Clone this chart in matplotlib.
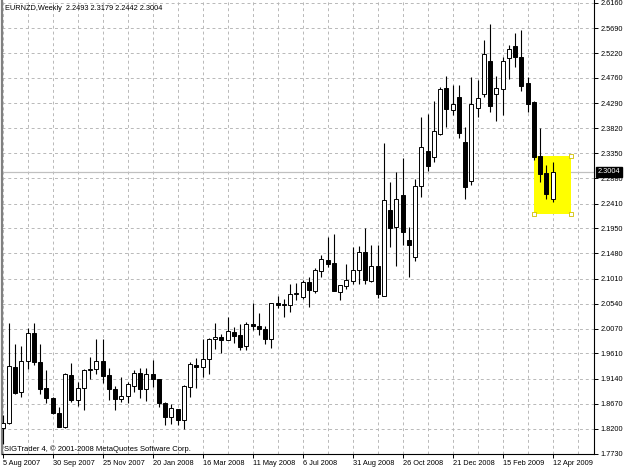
import matplotlib
matplotlib.use('Agg')
import matplotlib.pyplot as plt
import numpy as np
from matplotlib.patches import Rectangle

# EURNZD weekly candles, 5 Aug 2007 .. 12 Apr 2009
opens = [1.8211, 1.8305, 1.9362, 1.8884, 1.9474, 1.9998, 1.9456, 1.8969, 1.8783, 1.8503,
         1.8241, 1.9207, 1.8740, 1.8958, 1.9295, 1.9314, 1.9469, 1.9201, 1.8939, 1.8759,
         1.8821, 1.9002, 1.9245, 1.8945, 1.9226, 1.9133, 1.8690, 1.8428, 1.8572, 1.8366,
         1.8988, 1.9394, 1.9362, 1.9500, 1.9874, 1.9912, 1.9861, 2.0017, 1.9955, 1.9749,
         2.0160, 2.0123, 2.0061, 1.9874, 2.0547, 2.0516, 2.0516, 2.0716, 2.0659, 2.0951,
         2.0783, 2.1157, 2.1357, 2.1295, 2.0764, 2.0876, 2.0970, 2.1170, 2.1512, 2.0970,
         2.1244, 2.0689, 2.2291, 2.1968, 2.2571, 2.1730, 2.1406, 2.2744, 2.3394, 2.3275,
         2.3702, 2.4566, 2.4160, 2.4409, 2.3569, 2.2833, 2.4192, 2.4454, 2.5076, 2.4454,
         2.4553, 2.5126, 2.5356, 2.5156, 2.4659, 2.4316, 2.3306, 2.2983, 2.2493]
highs = [1.8460, 2.0174, 1.9781, 1.9749, 2.0080, 2.0185, 1.9781, 1.9301, 1.8802, 1.8604,
         1.9245, 1.9432, 1.9076, 1.9319, 1.9544, 1.9874, 1.9874, 1.9332, 1.9007, 1.9176,
         1.9082, 1.9301, 1.9344, 1.9344, 1.9488, 1.9140, 1.8695, 1.8665, 1.8580, 1.9020,
         1.9456, 1.9519, 1.9874, 1.9899, 2.0185, 1.9968, 2.0297, 2.0098, 2.0160, 2.0203,
         2.0559, 2.0360, 2.0123, 2.0559, 2.0684, 2.0622, 2.0902, 2.0921, 2.0983, 2.1045,
         2.1201, 2.1450, 2.1793, 2.1843, 2.0895, 2.1282, 2.1594, 2.1618, 2.1949, 2.1637,
         2.1637, 2.3549, 2.2820, 2.3007, 2.3257, 2.1980, 2.2866, 2.4024, 2.4085, 2.4328,
         2.4596, 2.4796, 2.4627, 2.4627, 2.3848, 2.4782, 2.4721, 2.5468, 2.5762, 2.4796,
         2.5156, 2.5375, 2.5599, 2.5646, 2.4782, 2.4320, 2.3829, 2.3126, 2.3179]
lows = [1.7918, 1.8291, 1.8852, 1.8796, 1.9314, 1.9389, 1.8859, 1.8678, 1.8478, 1.8226,
        1.8211, 1.8708, 1.8633, 1.8553, 1.9133, 1.9226, 1.9064, 1.8740, 1.8553, 1.8697,
        1.8684, 1.8895, 1.8772, 1.8727, 1.8988, 1.8615, 1.8273, 1.8286, 1.8273, 1.8192,
        1.8796, 1.8958, 1.9164, 1.9226, 1.9688, 1.9612, 1.9852, 1.9799, 1.9674, 1.9674,
        2.0048, 1.9955, 1.9787, 1.9706, 2.0454, 2.0297, 2.0390, 2.0609, 2.0622, 2.0484,
        2.0746, 2.1045, 2.1226, 2.0768, 2.0603, 2.0809, 2.0908, 2.0902, 2.0902, 2.0945,
        2.0646, 2.0684, 2.1605, 2.1244, 2.1637, 2.1045, 2.1338, 2.2525, 2.3020, 2.3194,
        2.3693, 2.3848, 2.4067, 2.3643, 2.2491, 2.2758, 2.4024, 2.4397, 2.4129, 2.3962,
        2.4067, 2.4734, 2.4964, 2.4515, 2.4129, 2.3226, 2.2809, 2.2491, 2.2442]
closes = [1.8316, 1.9375, 1.8865, 1.9474, 1.9987, 1.9445, 1.8945, 1.8772, 1.8491, 1.8241,
          1.9226, 1.8740, 1.8969, 1.9301, 1.9319, 1.9469, 1.9194, 1.8939, 1.8759, 1.8815,
          1.9033, 1.9245, 1.8945, 1.9226, 1.9127, 1.8678, 1.8428, 1.8585, 1.8366, 1.9002,
          1.9407, 1.9362, 1.9506, 1.9880, 1.9924, 1.9861, 2.0030, 1.9936, 1.9737, 2.0155,
          2.0123, 2.0061, 1.9874, 2.0547, 2.0516, 2.0534, 2.0721, 2.0734, 2.0951, 2.0796,
          2.1170, 2.1370, 2.1282, 2.0783, 2.0889, 2.0983, 2.1176, 2.1512, 2.0983, 2.1244,
          2.0716, 2.2478, 2.1949, 2.2497, 2.1871, 2.1637, 2.2740, 2.3459, 2.3114, 2.3768,
          2.4553, 2.4173, 2.4267, 2.3737, 2.2727, 2.4272, 2.4390, 2.5201, 2.4240, 2.4566,
          2.5076, 2.5295, 2.5156, 2.4609, 2.4272, 2.3288, 2.2964, 2.2584, 2.3004]

date_labels = ['5 Aug 2007', '30 Sep 2007', '25 Nov 2007', '20 Jan 2008', '16 Mar 2008',
               '11 May 2008', '6 Jul 2008', '31 Aug 2008', '26 Oct 2008', '21 Dec 2008',
               '15 Feb 2009', '12 Apr 2009']
price_levels = [2.6160, 2.5690, 2.5220, 2.4760, 2.4290, 2.3820, 2.3350, 2.2880, 2.2410,
                2.1950, 2.1480, 2.1010, 2.0540, 2.0070, 1.9610, 1.9140, 1.8670, 1.8200, 1.7730]
last_price = 2.3004
box_bars = [85, 91]
box_prices = [2.2216, 2.3306]

plt.rcParams['font.family'] = ['Liberation Sans', 'DejaVu Sans']

W, H = 625, 469
fig = plt.figure(figsize=(W / 100, H / 100), dpi=100)
ax = fig.add_axes([2 / W, 15 / H, 592 / W, 454 / H])

x = np.arange(len(opens))
o = np.array(opens)
c = np.array(closes)
bottoms = np.minimum(o, c)
heights = np.maximum(np.abs(c - o), 0.0008)
colors = ['white' if cc >= oo else 'black' for oo, cc in zip(o, c)]

# yellow selection box and the price line
ax.add_patch(Rectangle((box_bars[0], box_prices[0]), box_bars[1] - box_bars[0],
                       box_prices[1] - box_prices[0], facecolor='#FFFF00',
                       edgecolor='none', zorder=2))
ax.scatter([box_bars[1], box_bars[0], box_bars[1]],
           [box_prices[1], box_prices[0], box_prices[0]],
           marker='s', s=7, facecolor='white', edgecolor='#d0c000', linewidth=0.6, zorder=6)
ax.axhline(last_price, color='#C0C0C0', lw=0.9, zorder=1)

ax.vlines(x, lows, highs, color='black', lw=0.8, zorder=3)
ax.bar(x, heights, bottom=bottoms, width=0.64, color=colors, edgecolor='black',
       linewidth=0.7, zorder=4)

ax.set_xlim(-0.11, 94.6)
ax.set_ylim(1.7731, 2.6216)

ax.set_xticks(np.arange(0, len(opens), 8))
ax.set_xticklabels(date_labels, ha='left', fontsize=5.3)
ax.set_xticks(np.arange(0, 95, 4), minor=True)
ax.yaxis.tick_right()
ax.set_yticks(price_levels)
ax.set_yticklabels(['%.4f' % p for p in price_levels], fontsize=5.3)
ax.tick_params(axis='both', which='major', length=3, width=0.7, pad=1.5, colors='black')
ax.tick_params(axis='x', which='minor', length=0)

ax.grid(True, which='both', axis='x', color='#B8B8B8', linestyle=(0, (3, 3)), lw=0.7, zorder=0)
ax.grid(True, which='major', axis='y', color='#B8B8B8', linestyle=(0, (3, 3)), lw=0.7, zorder=0)
ax.set_axisbelow(True)

ax.spines['top'].set_visible(False)
ax.spines['left'].set_color('#808080')
ax.spines['left'].set_linewidth(1.6)
ax.spines['right'].set_linewidth(0.8)
ax.spines['bottom'].set_linewidth(0.8)

ax.annotate('%.4f' % last_price, xy=(1.0, last_price), xycoords=('axes fraction', 'data'),
            xytext=(2.5, 0), textcoords='offset points', ha='left', va='center',
            fontsize=5.3, color='white',
            bbox=dict(boxstyle='square,pad=0.2', fc='black', ec='black'), annotation_clip=False)

fig.text(5 / W, 1 - 8.5 / H, 'EURNZD,Weekly  %.4f %.4f %.4f %.4f' % (opens[-1], highs[-1], lows[-1], closes[-1]),
         ha='left', va='center', fontsize=5.3)
fig.text(3.5 / W, 1 - 449 / H, 'SIGTrader 4, \u00a9 2001-2008 MetaQuotes Software Corp.',
         ha='left', va='center', fontsize=5.5)

fig.savefig('out.png', dpi=100, facecolor='white')
